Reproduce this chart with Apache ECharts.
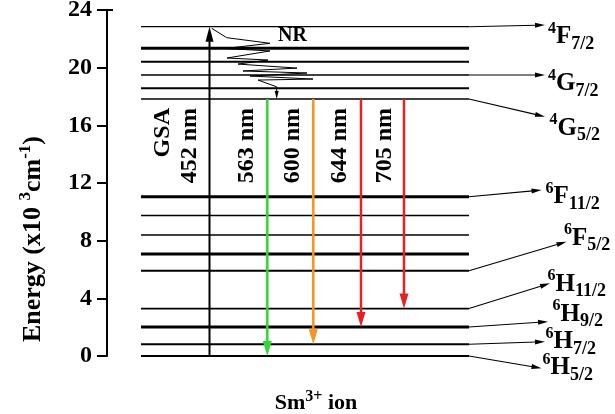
<!DOCTYPE html>
<html><head><meta charset="utf-8">
<script src="https://cdn.jsdelivr.net/npm/echarts@6/dist/echarts.min.js"></script>
<style>html,body{margin:0;padding:0;background:#fff}#c{width:615px;height:414px}</style>
</head><body><div id="c"></div>
<script>
// ================= DATA (energies in 10^3 cm^-1) =================
const yTicks = [0, 4, 8, 12, 16, 20, 24];
const levelEnergies = [0, 0.82, 2.01, 3.29, 5.92, 7.08, 8.39, 9.75, 11.05, 17.83, 18.57, 19.49, 20.41, 21.34, 22.84];

// labelled levels (term symbols)
const termEnergy = [22.84, 19.49, 17.83, 11.05, 5.92, 3.29, 2.01, 0.82, 0];
const termMult   = ['4', '4', '4', '6', '6', '6', '6', '6', '6'];
const termLetter = ['F', 'G', 'G', 'F', 'F', 'H', 'H', 'H', 'H'];
const termJ      = ['7/2', '7/2', '5/2', '11/2', '5/2', '11/2', '9/2', '7/2', '5/2'];

// absorption and emissions
const gsaLabel = 'GSA';
const gsaNm = 452;
const gsaUpper = 22.84;
const emitUpper = 17.83;                 // 4G5/2
const emissionNm = [563, 600, 644, 705];
const emissionLower = [0, 0.82, 2.01, 3.29];

// non-radiative relaxation path (zigzag), x in layout units, y in energy
const nrPathX = [20.94, 23.94, 32.6, 23.6, 32.6, 24.0, 32.2, 26.2, 38.0, 27.2, 40.0, 28.6, 41.2, 30.2, 33.94];
const nrPathY = [22.73, 22.08, 21.69, 21.33, 21.16, 20.67, 20.53, 20.25, 19.97, 19.77, 19.63, 19.42, 19.21, 19.14, 18.67];

const xTitle = 'Sm';
const xTitleSup = '3+';
const yTitle = ['Energy (x10 ', '3', 'cm', '-1', ')'];

// ================= LAYOUT / STYLE =================
const LX0 = 6.8, LX1 = 72.4;            // horizontal extent of the level lines (x units 0..100)
const levelWidths = [2, 2, 3, 1.7, 2, 3, 1.5, 1.5, 3, 1.5, 2, 1.5, 2, 3, 1.3];
const gsaX = 20.5;
const emissionX = [32.06, 41.26, 50.8, 59.4];
const emissionColors = ['#2fd92f', '#f7931e', '#e52222', '#e52222'];
const gsaTextX = [11.2, 16.6];
const emissionTextX = [28, 37.2, 46.6, 55.6];
const rotTextTop = 17.2;
const termTipX = [87.6, 87.6, 87.6, 86.9, 91.9, 88.6, 88.2, 87.6, 86.9];
const termTipY = [22.96, 19.49, 16.6, 11.51, 7.93, 5.04, 2.38, 0.99, -0.85];
const termTextX = [88.2, 88.2, 88.5, 87.7, 91.4, 88.1, 89.1, 87.7, 87.1];
const termTextY = [22.13, 18.87, 15.81, 11.03, 8.18, 4.99, 2.91, 0.97, -0.83];
const nrText = {x: 34.2, y: 22.2};
const serif = '"Liberation Serif","Times New Roman",serif';

function arrowSeries(name, items, st) {
  return {
    type: 'custom', name: name, z: st.z || 5,
    renderItem: function (params, api) {
      const s = api.coord([api.value(0), api.value(1)]);
      const e = api.coord([api.value(2), api.value(3)]);
      const color = api.visual('color');
      const dx = e[0] - s[0], dy = e[1] - s[1];
      const len = Math.sqrt(dx * dx + dy * dy) || 1;
      const ux = dx / len, uy = dy / len;
      const bx = e[0] - ux * st.hl, by = e[1] - uy * st.hl;
      const px = -uy * st.hw / 2, py = ux * st.hw / 2;
      return {
        type: 'group', children: [
          {type: 'line', shape: {x1: s[0], y1: s[1], x2: bx + ux, y2: by + uy}, style: {stroke: color, lineWidth: st.lw}},
          {type: 'polygon', shape: {points: [[e[0], e[1]], [bx + px, by + py], [bx - px, by - py]]}, style: {fill: color}}
        ]
      };
    },
    data: items
  };
}

const emissionArrows = emissionNm.map((nm, i) => ({
  value: [emissionX[i], emitUpper, emissionX[i], emissionLower[i]],
  itemStyle: {color: emissionColors[i]}
}));
const gsaArrow = [{value: [gsaX, 0, gsaX, gsaUpper], itemStyle: {color: '#000'}}];
const pointerArrows = termEnergy.map((E, i) => ({
  value: [LX1, E, termTipX[i], termTipY[i]], itemStyle: {color: '#000'}
}));
const nrArrow = [{value: [nrPathX[nrPathX.length - 1], nrPathY[nrPathY.length - 1], nrPathX[nrPathX.length - 1], emitUpper], itemStyle: {color: '#000'}}];

const rotTexts = [
  {x: gsaTextX[0], t: gsaLabel},
  {x: gsaTextX[1], t: gsaNm + ' nm'}
].concat(emissionNm.map((nm, i) => ({x: emissionTextX[i], t: nm + ' nm'})));

const rich = {
  s: {fontSize: 16, fontWeight: 'bold', fontFamily: serif, fill: '#000', color: '#000', verticalAlign: 'top', lineHeight: 16},
  m: {fontSize: 25, fontWeight: 'bold', fontFamily: serif, fill: '#000', color: '#000', lineHeight: 32},
  b: {fontSize: 18, fontWeight: 'bold', fontFamily: serif, fill: '#000', color: '#000', verticalAlign: 'bottom', lineHeight: 18}
};

const option = {
  animation: false,
  backgroundColor: '#fff',
  grid: {left: 107, right: 8, top: 10, bottom: 58, outerBoundsMode: 'none', containLabel: false},
  xAxis: {
    type: 'value', min: 0, max: 100,
    axisLine: {show: false}, axisTick: {show: false}, axisLabel: {show: false}, splitLine: {show: false},
    name: '{m|' + xTitle + '}{s|' + xTitleSup + '}{m| ion}',
    nameLocation: 'middle', nameGap: 33,
    nameTextStyle: {
      padding: [0, 82, 0, 0],
      rich: {
        m: {fontSize: 22, fontWeight: 'bold', fontFamily: serif, color: '#000', lineHeight: 28},
        s: {fontSize: 16, fontWeight: 'bold', fontFamily: serif, color: '#000', verticalAlign: 'top', lineHeight: 16}
      }
    }
  },
  yAxis: {
    type: 'value', min: 0, max: 24, interval: 4,
    axisLine: {show: true, lineStyle: {color: '#000', width: 2}, symbol: ['none', 'rect'], symbolSize: [12, 2]},
    axisTick: {show: true, inside: false, length: 10, lineStyle: {color: '#000', width: 2}},
    axisLabel: {color: '#000', fontFamily: serif, fontWeight: 'bold', fontSize: 24, margin: 15,
      formatter: v => (yTicks.indexOf(v) >= 0 ? String(v) : '')},
    splitLine: {show: false},
    name: '{m|' + yTitle[0] + '}{s|' + yTitle[1] + '}{m|' + yTitle[2] + '}{s|' + yTitle[3] + '}{m|' + yTitle[4] + '}',
    nameLocation: 'middle', nameRotate: 90, nameGap: 58,
    nameTextStyle: {
      padding: [0, 112, 0, 0],
      rich: {
        m: {fontSize: 26, fontWeight: 'bold', fontFamily: serif, color: '#000', lineHeight: 32},
        s: {fontSize: 17, fontWeight: 'bold', fontFamily: serif, color: '#000', verticalAlign: 'top', lineHeight: 16}
      }
    }
  },
  series: [
    {
      type: 'custom', name: 'levels', z: 2,
      renderItem: function (params, api) {
        const a = api.coord([api.value(0), api.value(1)]);
        const b = api.coord([LX1, api.value(1)]);
        return {type: 'line', shape: {x1: a[0], y1: a[1], x2: b[0], y2: b[1]},
          style: {stroke: '#000', lineWidth: levelWidths[params.dataIndex]}};
      },
      data: levelEnergies.map(E => [LX0, E])
    },
    {
      type: 'line', name: 'NR', z: 3, showSymbol: false, symbol: 'none', silent: true,
      lineStyle: {color: '#000', width: 1},
      data: nrPathX.map((x, i) => [x, nrPathY[i]])
    },
    arrowSeries('NR arrow', nrArrow, {lw: 1, hw: 4, hl: 8, z: 4}),
    arrowSeries('pointers', pointerArrows, {lw: 1.1, hw: 5, hl: 10, z: 4}),
    arrowSeries('GSA', gsaArrow, {lw: 2, hw: 8, hl: 15, z: 6}),
    arrowSeries('emission', emissionArrows, {lw: 2.5, hw: 9, hl: 15, z: 6}),
    {
      type: 'custom', name: 'rot labels', z: 7,
      renderItem: function (params, api) {
        const p = api.coord([api.value(0), api.value(1)]);
        return {type: 'text', x: p[0], y: p[1], rotation: Math.PI / 2,
          style: {text: rotTexts[params.dataIndex].t, fontSize: 24, fontWeight: 'bold', fontFamily: serif,
            fill: '#000', align: 'right', verticalAlign: 'middle'}};
      },
      data: rotTexts.map(r => [r.x, rotTextTop])
    },
    {
      type: 'custom', name: 'terms', z: 7,
      renderItem: function (params, api) {
        const i = params.dataIndex;
        const p = api.coord([api.value(0), api.value(1)]);
        return {type: 'text', x: p[0], y: p[1],
          style: {text: '{s|' + termMult[i] + '}{m|' + termLetter[i] + '}{b|' + termJ[i] + '}',
            rich: rich, fill: '#000', align: 'left', verticalAlign: 'middle'}};
      },
      data: termEnergy.map((E, i) => [termTextX[i], termTextY[i]])
    },
    {
      type: 'custom', name: 'NR label', z: 7,
      renderItem: function (params, api) {
        const p = api.coord([api.value(0), api.value(1)]);
        return {type: 'text', x: p[0], y: p[1],
          style: {text: 'NR', fontSize: 20, fontWeight: 'bold', fontFamily: serif, fill: '#000', align: 'left', verticalAlign: 'middle'}};
      },
      data: [[nrText.x, nrText.y]]
    }
  ]
};
const chart = echarts.init(document.getElementById('c'), null, {renderer: 'canvas'});
chart.setOption(option);
</script></body></html>
